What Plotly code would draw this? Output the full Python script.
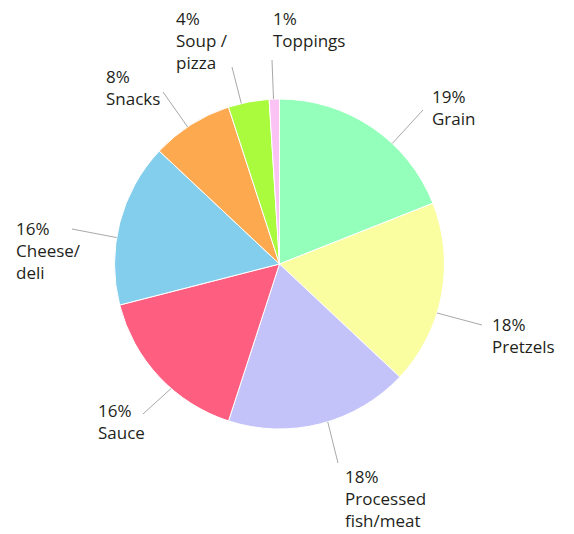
import math
import plotly.graph_objects as go

# Share of items by food category (percent)
categories = ["Grain", "Pretzels", "Processed fish/meat", "Sauce",
              "Cheese/deli", "Snacks", "Soup / pizza", "Toppings"]
shares = [19, 18, 18, 16, 16, 8, 4, 1]
label_text = ["Grain", "Pretzels", "Processed<br>fish/meat", "Sauce",
              "Cheese/<br>deli", "Snacks", "Soup /<br>pizza", "Toppings"]
colors = ["#94FFBA", "#FAFDA0", "#C3C3F9", "#FE5E80",
          "#83CEEC", "#FDA950", "#AAFB3E", "#FBC2F4"]

W, H = 574, 534
CX, CY, R = 279.5, 264.0, 165.0  # pie centre and radius in pixels

# Label layout: where along each slice the leader starts (0..1),
# the leader's outer end and the top-left of the label text (pixels).
label_layout = [
    dict(t=0.63, end=(423, 110), text=(430, 83)),
    dict(t=0.60, end=(482, 325), text=(490, 311)),
    dict(t=0.46, end=(338, 463), text=(343, 463)),
    dict(t=0.40, end=(143, 414), text=(96, 397)),
    dict(t=0.41, end=(72, 229), text=(14, 215)),
    dict(t=0.45, end=(163, 92), text=(104, 63)),
    dict(t=0.32, end=(232, 67), text=(174, 5)),
    dict(t=0.42, end=(272, 60), text=(271, 5)),
]

def px(x):
    return x / W

def py(y):
    return 1 - y / H

fig = go.Figure(go.Pie(
    labels=categories,
    values=shares,
    sort=False,
    direction="clockwise",
    rotation=0,
    textinfo="none",
    hoverinfo="label+percent",
    marker=dict(colors=colors, line=dict(color="white", width=1)),
    domain=dict(x=[px(CX - R), px(CX + R)], y=[py(CY + R), py(CY - R)]),
    showlegend=False,
))

total = sum(shares)
cum = 0.0
shapes, annotations = [], []
for share, txt, lay in zip(shares, label_text, label_layout):
    a0 = cum / total * 360
    a1 = (cum + share) / total * 360
    cum += share
    ang = math.radians(a0 + lay["t"] * (a1 - a0))
    sx = CX + R * math.sin(ang)
    sy = CY - R * math.cos(ang)
    ex, ey = lay["end"]
    shapes.append(dict(type="line", xref="paper", yref="paper",
                       x0=px(sx), y0=py(sy), x1=px(ex), y1=py(ey),
                       line=dict(color="#A8A8A8", width=1)))
    tx, ty = lay["text"]
    annotations.append(dict(
        text=f"{share}%<br>{txt}", xref="paper", yref="paper",
        x=px(tx), y=py(ty), xanchor="left", yanchor="top",
        align="left", showarrow=False,
        font=dict(family="Open Sans", size=17, color="#231F20"),
    ))

fig.update_layout(
    width=W, height=H,
    margin=dict(l=0, r=0, t=0, b=0),
    paper_bgcolor="white",
    plot_bgcolor="white",
    shapes=shapes,
    annotations=annotations,
)

fig.write_html("out.html")
